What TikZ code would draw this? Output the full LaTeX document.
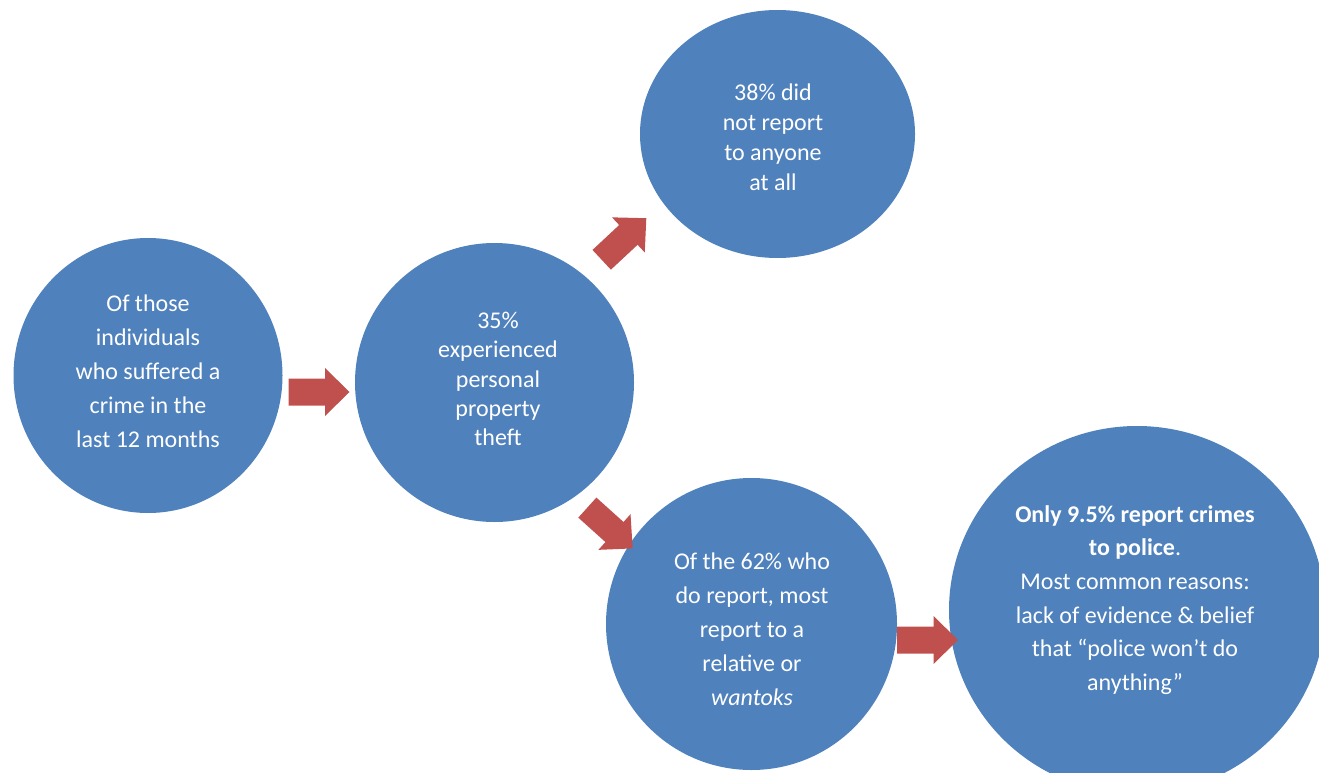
\documentclass[tikz,border=0pt]{standalone}
\usepackage{fontspec}
\setmainfont{Carlito}
\usetikzlibrary{shapes.geometric}
\definecolor{bubble}{HTML}{4F81BD}
\definecolor{arrowred}{HTML}{C0504D}
\tikzset{
  bub/.style={ellipse, fill=bubble, inner sep=0pt, draw=none},
  txt/.style={text=white, align=center, inner sep=0pt, font=\fontsize{24}{34}\selectfont},
  blk/.style={fill=arrowred, draw=none}
}
\newcommand\blockarr[3]{\fill[blk, shift={(#1,#2)}, rotate=#3] (-30.5,-13.5) -- (6,-13.5) -- (6,-24) -- (30.5,0) -- (6,24) -- (6,13.5) -- (-30.5,13.5) -- cycle;}
\begin{document}
\begin{tikzpicture}[x=1pt,y=-1pt]
\useasboundingbox (0,0) rectangle (1319,773);
\clip (0,0) rectangle (1319,773);
\node[bub, minimum width=269pt, minimum height=275pt] (c1) at (148,375.5) {};
\node[bub, minimum width=279pt, minimum height=279pt] (c2) at (494.5,382.5) {};
\node[bub, minimum width=275pt, minimum height=248pt] (c3) at (777.5,134) {};
\node[bub, minimum width=291pt, minimum height=292pt] (c4) at (751.5,624) {};
\node[bub, minimum width=376pt, minimum height=368pt] (c5) at (1137,610) {};

\node[txt] (t1) at (148,371) {Of those\\individuals\\who suffered a\\crime in the\\last 12 months};
\node[txt, font=\fontsize{24}{29.3}\selectfont] (t2) at (498,379) {35\%\\experienced\\personal\\property\\theft};
\node[txt, font=\fontsize{24}{30}\selectfont] (t3) at (773,137) {38\% did\\not report\\to anyone\\at all};
\node[txt] (t4) at (752,629) {Of the 62\% who\\do report, most\\report to a\\relative or\\\textit{wantoks}};
\node[txt, font=\fontsize{24}{33.6}\selectfont] (t5) at (1135,600) {\textbf{Only 9.5\% report crimes}\\\textbf{to police}.\\Most common reasons:\\lack of evidence \& belief\\that “police won’t do\\anything”};

\blockarr{319}{392}{0}
\blockarr{927.5}{640}{0}
\blockarr{624}{239}{43}
\blockarr{610}{528}{-42}
\end{tikzpicture}
\end{document}
